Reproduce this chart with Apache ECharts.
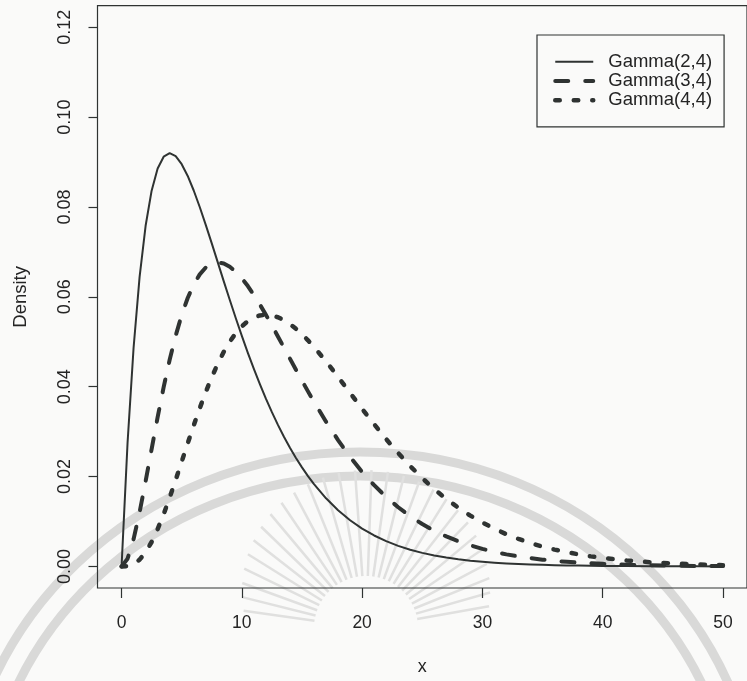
<!DOCTYPE html>
<html>
<head>
<meta charset="utf-8">
<title>Gamma densities</title>
<script src="https://cdn.jsdelivr.net/npm/echarts@6/dist/echarts.min.js"></script>
<style>
  html, body { margin: 0; padding: 0; background: #fafaf9; }
  #chart { width: 747px; height: 681px; }
</style>
</head>
<body>
<div id="chart"></div>
<script>
// x grid of the density curves
const xs = [
  0, 0.5, 1, 1.5, 2, 2.5, 3, 3.5, 4, 4.5, 5, 5.5, 6, 6.5, 7, 7.5, 8, 8.5, 9, 9.5,
  10, 10.5, 11, 11.5, 12, 12.5, 13, 13.5, 14, 14.5, 15, 15.5, 16,
  17, 18, 19, 20, 21, 22, 23, 24, 25, 26, 27, 28, 29, 30, 31, 32, 33, 34, 35, 36, 37, 38, 39, 40,
  42, 44, 46, 48, 50
];

// Density values: Gamma(shape, scale = 4)
const gamma24 = [
  0, 0.02758, 0.04868, 0.06443, 0.07582, 0.08363, 0.08857, 0.09119, 0.09197, 0.09131,
  0.08953, 0.08691, 0.08367, 0.08000, 0.07603, 0.07189, 0.06767, 0.06345, 0.05929, 0.05523,
  0.05130, 0.04754, 0.04395, 0.04055, 0.03734, 0.03433, 0.03150, 0.02887, 0.02642, 0.02415,
  0.02205, 0.02011, 0.01832,
  0.01516, 0.01250, 0.01027, 0.00842, 0.00689, 0.00562, 0.00458, 0.00372, 0.00302, 0.00244,
  0.00198, 0.00160, 0.00129, 0.00104, 0.00084, 0.00067, 0.00054, 0.00043, 0.00035, 0.00028,
  0.00022, 0.00018, 0.00014, 0.00011,
  0.00007, 0.00005, 0.00003, 0.00002, 0.00001
];
const gamma34 = [
  0, 0.00172, 0.00608, 0.01208, 0.01896, 0.02613, 0.03321, 0.03990, 0.04599, 0.05136,
  0.05596, 0.05975, 0.06275, 0.06500, 0.06653, 0.06740, 0.06767, 0.06742, 0.06670, 0.06559,
  0.06413, 0.06240, 0.06043, 0.05829, 0.05601, 0.05364, 0.05119, 0.04872, 0.04624, 0.04377,
  0.04134, 0.03896, 0.03664,
  0.03222, 0.02813, 0.02439, 0.02105, 0.01809, 0.01546, 0.01317, 0.01116, 0.00944, 0.00793,
  0.00668, 0.00560, 0.00468, 0.00390, 0.00326, 0.00268, 0.00223, 0.00183, 0.00151, 0.00125,
  0.00103, 0.00085, 0.00069, 0.00057,
  0.00038, 0.00025, 0.00017, 0.00011, 0.00007
];
const gamma44 = [
  0, 0.00007, 0.00051, 0.00151, 0.00316, 0.00544, 0.00830, 0.01164, 0.01533, 0.01926,
  0.02332, 0.02739, 0.03138, 0.03521, 0.03881, 0.04213, 0.04511, 0.04776, 0.05003, 0.05193,
  0.05344, 0.05460, 0.05539, 0.05586, 0.05601, 0.05588, 0.05546, 0.05481, 0.05395, 0.05289,
  0.05168, 0.05032, 0.04885,
  0.04565, 0.04220, 0.03862, 0.03508, 0.03166, 0.02834, 0.02524, 0.02232, 0.01967, 0.01718,
  0.01503, 0.01307, 0.01131, 0.00975, 0.00842, 0.00715, 0.00613, 0.00519, 0.00440, 0.00375,
  0.00318, 0.00269, 0.00224, 0.00190,
  0.00133, 0.00092, 0.00065, 0.00044, 0.00029
];

const seriesNames = ['Gamma(2,4)', 'Gamma(3,4)', 'Gamma(4,4)'];

// Tick positions
const xTicks = [0, 10, 20, 30, 40, 50];
const yTicks = [0, 0.02, 0.04, 0.06, 0.08, 0.10, 0.12];

// Axis ranges padded 4% beyond the data window
const xRange = [-2, 52];
const yRange = [-0.0048, 0.1248];

const ink = '#2f3332';
const textInk = '#242424';
const fontFamily = '"Liberation Sans", Arial, Helvetica, sans-serif';

function pairs(ys) {
  return xs.map((x, i) => [x, ys[i]]);
}

// faint seal printed behind the figure
function sealGraphics() {
  const els = [];
  const ring = { fill: null, stroke: '#d9d9d8', lineWidth: 9 };
  els.push({ type: 'ellipse', silent: true, z: -5,
    shape: { cx: 360, cy: 832, rx: 400, ry: 380 }, style: ring });
  els.push({ type: 'ellipse', silent: true, z: -5,
    shape: { cx: 360, cy: 832, rx: 376, ry: 356 }, style: ring });
  const cx = 366, cy = 628;
  for (let a = -172; a <= -8; a += 6) {
    const r = a * Math.PI / 180;
    const r0 = 52, r1 = 118 + 40 * Math.abs(Math.sin(r));
    els.push({
      type: 'line', silent: true, z: -5,
      shape: {
        x1: cx + r0 * Math.cos(r), y1: cy + r0 * Math.sin(r),
        x2: cx + r1 * Math.cos(r), y2: cy + r1 * Math.sin(r)
      },
      style: { stroke: '#e0e0df', lineWidth: 2.5 }
    });
  }
  return els;
}

const chart = echarts.init(document.getElementById('chart'), null, { renderer: 'canvas' });

// solid, dashed and dotted strokes for the three curves
const lineStyles = [
  { width: 2, type: 'solid' },
  { width: 4, type: [13, 17], cap: 'round' },
  { width: 4.5, type: [4.5, 14], cap: 'round' }
];
const dataSets = [gamma24, gamma34, gamma44];

chart.setOption({
  backgroundColor: '#fafaf9',
  animation: false,
  graphic: sealGraphics(),
  grid: {
    left: 97.5, top: 5.7, width: 660, height: 583.3,
    show: true, borderColor: ink, borderWidth: 1.2, backgroundColor: 'transparent'
  },
  legend: {
    orient: 'vertical',
    left: 537, top: 35,
    padding: [17, 12, 17, 16],
    itemWidth: 38, itemHeight: 14, itemGap: 0,
    borderColor: ink, borderWidth: 1.2,
    itemStyle: { opacity: 0, borderWidth: 0 },
    textStyle: {
      color: textInk, fontSize: 18.5, fontFamily: fontFamily,
      lineHeight: 19.3, padding: [0, 0, 0, 10]
    },
    data: seriesNames.map((name, i) => ({
      name: name,
      itemStyle: { opacity: 0, borderWidth: 0 },
      lineStyle: Object.assign({ color: ink }, lineStyles[i])
    }))
  },
  xAxis: {
    type: 'value',
    min: xRange[0], max: xRange[1],
    name: 'x', nameLocation: 'middle', nameGap: 70,
    nameTextStyle: { color: textInk, fontSize: 18, fontFamily: fontFamily },
    axisLine: { show: false, onZero: false },
    axisTick: { show: true, inside: false, length: 10, customValues: xTicks, lineStyle: { color: ink, width: 1.2 } },
    axisLabel: {
      customValues: xTicks, margin: 26, color: textInk, fontSize: 17.5, fontFamily: fontFamily,
      formatter: v => String(v)
    },
    splitLine: { show: false }
  },
  yAxis: {
    type: 'value',
    min: yRange[0], max: yRange[1],
    name: 'Density', nameLocation: 'middle', nameGap: 67, nameRotate: 90,
    nameTextStyle: { color: textInk, fontSize: 18.5, fontFamily: fontFamily },
    axisLine: { show: false, onZero: false },
    axisTick: { show: true, inside: false, length: 9, customValues: yTicks, lineStyle: { color: ink, width: 1.2 } },
    axisLabel: {
      customValues: yTicks, margin: 23, rotate: 90, color: textInk, fontSize: 18, fontFamily: fontFamily,
      formatter: v => v.toFixed(2)
    },
    splitLine: { show: false }
  },
  series: dataSets.map((ys, i) => ({
    name: seriesNames[i],
    type: 'line',
    data: pairs(ys),
    showSymbol: false,
    symbol: 'none',
    smooth: false,
    clip: false,
    color: ink,
    lineStyle: Object.assign({ color: ink, join: 'round' }, lineStyles[i])
  }))
});
</script>
</body>
</html>
